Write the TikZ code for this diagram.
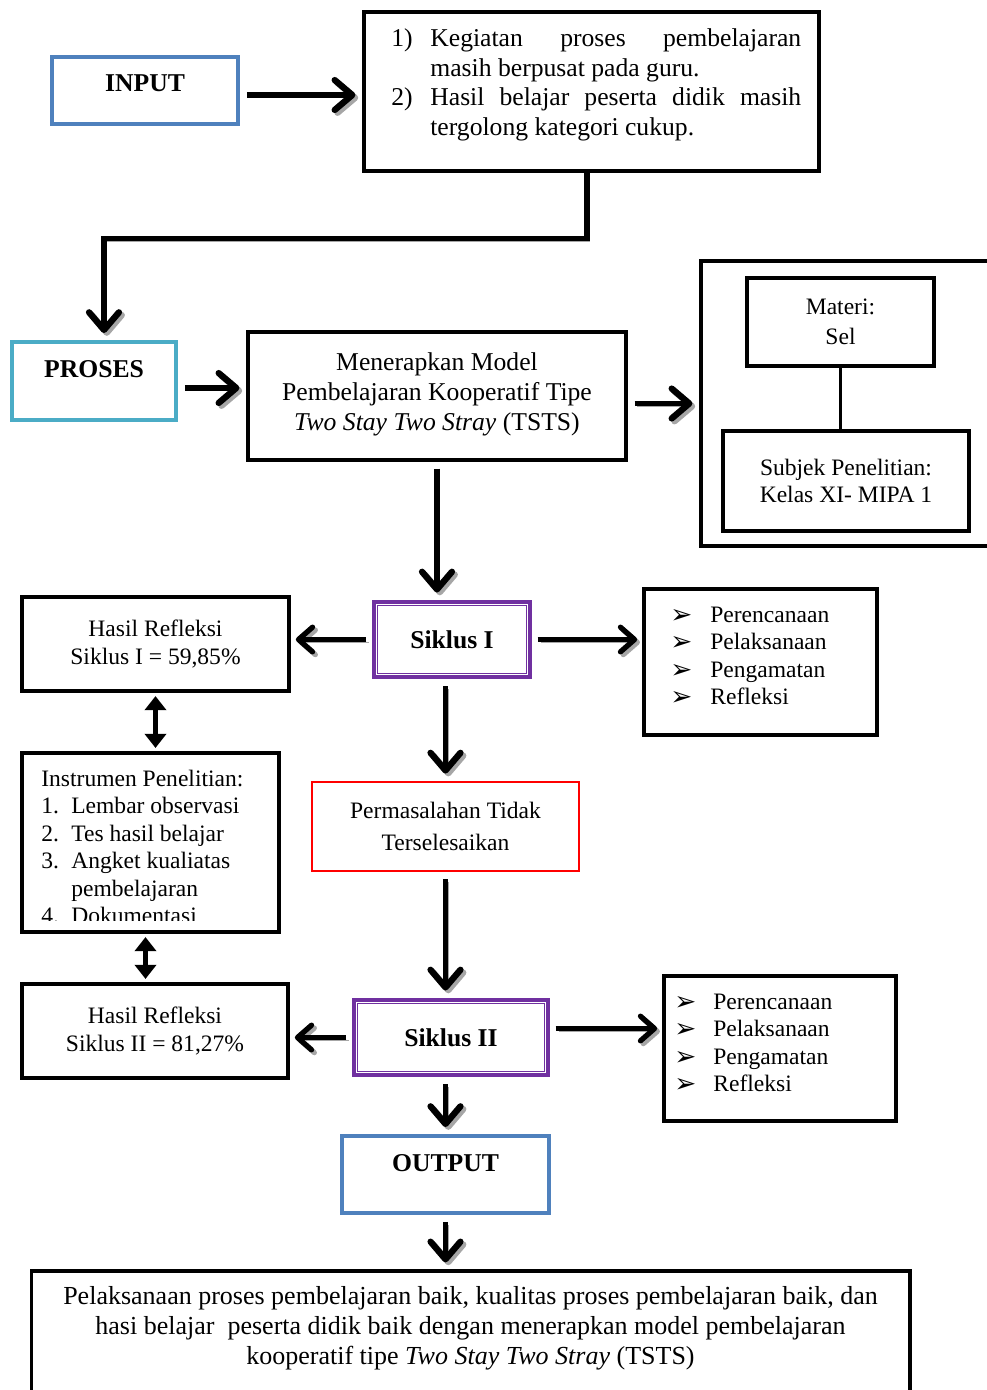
\documentclass[tikz,border=0pt]{standalone}
\usepackage{fontspec}
\setmainfont{Liberation Serif}
\newfontfamily\dejavu{DejaVu Sans}
\usepackage{tikz}
\usetikzlibrary{arrows.meta}
\usetikzlibrary{positioning}

\definecolor{inblue}{HTML}{4F81BD}
\definecolor{procyan}{HTML}{4BACC6}
\definecolor{cyclepurple}{HTML}{7030A0}

\newcommand{\bigtxt}{\fontsize{14.6}{17}\selectfont}
\newcommand{\smalltxt}{\fontsize{13.4}{15.6}\selectfont}
\newcommand{\pointer}{\raisebox{-0.5pt}{\dejavu\fontsize{15}{15}\selectfont ➢}}

\begin{document}
\begin{tikzpicture}[
  x=0.02cm, y=-0.02cm,
  line join=miter,
  font=\bigtxt
]
\tikzset{
    plainbox/.style = {rectangle, draw=black, line width=1.8pt, align=center, inner sep=0pt},
    smallbox/.style = {plainbox, font=\smalltxt},
    inbox/.style = {plainbox, draw=inblue, line width=2.2pt, font=\bigtxt\bfseries},
    procbox/.style = {plainbox, draw=procyan, line width=2.2pt, font=\bigtxt\bfseries},
    cyclebox/.style = {plainbox, draw=cyclepurple, line width=2.8pt, font=\bigtxt\bfseries},
    issuebox/.style = {smallbox, draw=red, line width=1.6pt},
    txtblock/.style = {anchor=north west, inner sep=0pt},
    shade/.style = {preaction={draw=black!35, transform canvas={shift={(1.6pt,-1.6pt)}}}},
    bigarrow/.style = {line width=3pt, -{Straight Barb[round, length=10pt, width=17pt, line width=0.6pt 1]}, shorten >=4pt, shorten <=4pt, shade},
    sidearrow/.style = {line width=2.4pt, -{Straight Barb[round, length=8pt, width=14pt, line width=0.6pt 1]}, shorten >=3pt, shorten <=3pt, shade},
    twoway/.style = {line width=3pt, {Triangle[length=8pt,width=12pt]}-{Triangle[length=8pt,width=12pt]}, shorten >=2pt, shorten <=2pt},
}
\useasboundingbox (0,0) rectangle (987,1390);

% top row
\node[inbox, minimum width=3.72cm, minimum height=1.34cm, text depth=8.6pt] (input) at (145,90.5) {INPUT};
\node[plainbox, minimum width=9.1cm, minimum height=3.18cm] (prob) at (591.5,91.5) {};
\node[txtblock] (probtxt) at (391,25) {%
\begin{tabular}[t]{@{}p{0.78cm}@{}p{7.42cm}@{}}
1) & Kegiatan proses pembelajaran\linebreak masih berpusat pada guru.\\
2) & Hasil belajar peserta didik masih\linebreak tergolong kategori cukup.
\end{tabular}};

% proses row
\node[procbox, minimum width=3.28cm, minimum height=1.56cm, text depth=13.4pt] (proses) at (94,381) {PROSES};
\node[plainbox, minimum width=7.56cm, minimum height=2.56cm, text depth=4.6pt] (model) at (437,396)
  {Menerapkan Model\\Pembelajaran Kooperatif Tipe\\\textit{Two Stay Two Stray} (TSTS)};
\node[plainbox, minimum width=5.82cm, minimum height=5.7cm] (outer) at (846.5,403.5) {};
\node[smallbox, minimum width=3.74cm, minimum height=1.76cm, font=\fontsize{13.4}{17}\selectfont] (materi) at (840.5,322) {Materi:\\Sel};
\node[smallbox, minimum width=4.92cm, minimum height=2.0cm] (subjek) at (846,481) {Subjek Penelitian:\\Kelas XI- MIPA 1};

% siklus I
\node[cyclebox, minimum width=3.12cm, minimum height=1.5cm] (sik1) at (452,639.5) {Siklus I};
\node[smallbox, minimum width=5.34cm, minimum height=1.88cm] (hasil1) at (155.5,644) {Hasil Refleksi\\Siklus I = 59,85\%};
\node[plainbox, minimum width=4.66cm, minimum height=2.92cm] (list1) at (760.5,662) {};
\node[txtblock, font=\smalltxt] (list1txt) at (670,603) {%
\begin{tabular}[t]{@{}p{0.8cm}@{}l@{}}
\pointer & Perencanaan\\ \pointer & Pelaksanaan\\ \pointer & Pengamatan\\ \pointer & Refleksi
\end{tabular}};
\node[issuebox, minimum width=5.34cm, minimum height=1.78cm, font=\fontsize{13.4}{18.2}\selectfont] (masalah) at (445.5,826.5) {Permasalahan Tidak\\Terselesaikan};

% instrumen
\node[plainbox, minimum width=5.14cm, minimum height=3.58cm] (instr) at (150.5,842.5) {};
\begin{scope}
  \clip (26,757) rectangle (275,920);
  \node[txtblock, font=\smalltxt] (instrtxt) at (41,767) {%
  \begin{tabular}[t]{@{}p{0.6cm}@{}l@{}}
  \multicolumn{2}{@{}l@{}}{Instrumen Penelitian:}\\
  1. & Lembar observasi\\ 2. & Tes hasil belajar\\ 3. & Angket kualiatas\\ & pembelajaran\\ 4. & Dokumentasi
  \end{tabular}};
\end{scope}

% siklus II
\node[cyclebox, minimum width=3.88cm, minimum height=1.5cm] (sik2) at (451,1037.5) {Siklus II};
\node[smallbox, minimum width=5.32cm, minimum height=1.88cm] (hasil2) at (155,1031) {Hasil Refleksi\\Siklus II = 81,27\%};
\node[plainbox, minimum width=4.64cm, minimum height=2.9cm] (list2) at (780,1048.5) {};
\node[txtblock, font=\smalltxt] (list2txt) at (674,990) {%
\begin{tabular}[t]{@{}p{0.78cm}@{}l@{}}
\pointer & Perencanaan\\ \pointer & Pelaksanaan\\ \pointer & Pengamatan\\ \pointer & Refleksi
\end{tabular}};

% output
\node[inbox, minimum width=4.14cm, minimum height=1.54cm, text depth=13pt] (output) at (445.5,1174.5) {OUTPUT};
\node[plainbox, minimum width=17.58cm, minimum height=2.98cm] (final) at (470.5,1345.5) {};
\node[txtblock, anchor=north, align=center, font=\fontsize{14.8}{17}\selectfont] (finaltxt) at (470.5,1286) {%
Pelaksanaan proses pembelajaran baik, kualitas proses pembelajaran baik, dan\\
hasi belajar\ \ peserta didik baik dengan menerapkan model pembelajaran\\
kooperatif tipe \textit{Two Stay Two Stray} (TSTS)};

% double line of the siklus boxes
\foreach \n in {sik1,sik2}
  \draw[cyclepurple, line width=0.7pt] ([shift={(0.12cm,-0.12cm)}]\n.north west) rectangle ([shift={(-0.12cm,0.12cm)}]\n.south east);

% connectors
\draw[bigarrow] ([yshift=-0.09cm]input.east) -- ([yshift=-0.09cm]input.east -| prob.west);
\draw[bigarrow, shorten <=0pt] ([xshift=-0.09cm]prob.south) -- ++(0,66) -| ([xshift=0.2cm]proses.north);
\draw[bigarrow] ([yshift=-0.14cm]proses.east) -- ([yshift=-0.14cm]proses.east -| model.west);
\draw[bigarrow] (model.east |- outer.west) -- (outer.west);
\draw[line width=1.8pt] (materi.south) -- (materi.south |- subjek.north);
\draw[bigarrow] (model.south) -- (model.south |- sik1.north);
\draw[sidearrow] (sik1.west) -- (sik1.west -| hasil1.east);
\draw[sidearrow] (sik1.east) -- (sik1.east -| list1.west);
\draw[bigarrow] (masalah.north |- sik1.south) -- (masalah.north);
\draw[bigarrow] (masalah.south) -- (masalah.south |- sik2.north);
\draw[twoway] (hasil1.south) -- (hasil1.south |- instr.north);
\draw[twoway] ([xshift=-0.1cm]instr.south) -- ([xshift=-0.1cm]instr.south |- hasil2.north);
\draw[sidearrow] (sik2.west) -- (sik2.west -| hasil2.east);
\draw[sidearrow] ([yshift=0.18cm]sik2.east) -- ([yshift=0.18cm]sik2.east -| list2.west);
\draw[bigarrow] (output.north |- sik2.south) -- (output.north);
\draw[bigarrow] (output.south) -- (output.south |- final.north);
\end{tikzpicture}
\end{document}
